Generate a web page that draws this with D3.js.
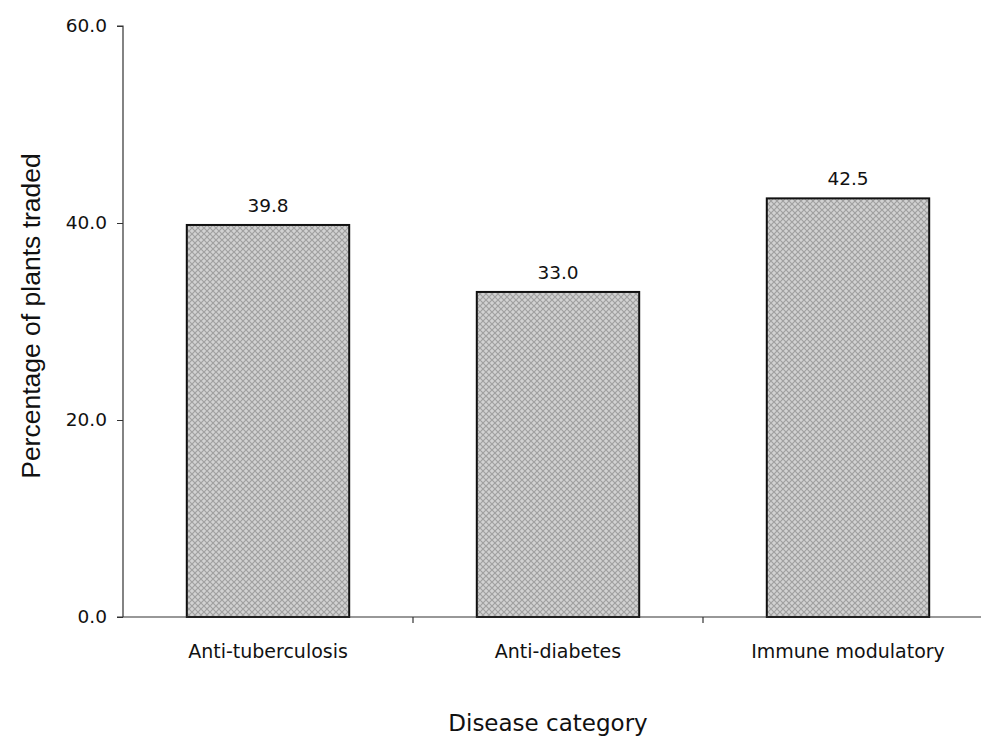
<!DOCTYPE html>
<html><head><meta charset="utf-8">
<script src="https://cdn.jsdelivr.net/npm/d3@7"></script>
<style>body{margin:0;background:#fff}</style>
</head><body>
<script>
const categories = ["Anti-tuberculosis", "Anti-diabetes", "Immune modulatory"];
const values = [39.8, 33.0, 42.5];
const yTicks = [0, 20, 40, 60];

const W = 981, H = 741;
const svg = d3.select("body").append("svg").attr("width", W).attr("height", H);

const defs = svg.append("defs");
const pat = defs.append("pattern").attr("id", "hatch").attr("patternUnits", "userSpaceOnUse")
  .attr("width", 6).attr("height", 6);
pat.append("rect").attr("width", 6).attr("height", 6).attr("fill", "#d2d2d2");
pat.append("path").attr("d", "M0,0 L6,6 M6,0 L0,6").attr("stroke", "#a0a0a0").attr("stroke-width", 1.2);

const x = d3.scaleBand().domain(categories).range([123, 993]).paddingInner(0.44).paddingOuter(0.22);
const y = d3.scaleLinear().domain([0, 60]).range([617, 26]);

const font = "Tahoma, 'DejaVu Sans', Verdana, sans-serif";

// bars
svg.selectAll("rect.bar").data(values).enter().append("rect")
  .attr("class", "bar")
  .attr("x", (d, i) => x(categories[i]))
  .attr("y", d => y(d))
  .attr("width", x.bandwidth())
  .attr("height", d => y(0) - y(d))
  .attr("fill", "url(#hatch)")
  .attr("stroke", "#111").attr("stroke-width", 2);

// value labels
svg.selectAll("text.val").data(values).enter().append("text")
  .attr("x", (d, i) => x(categories[i]) + x.bandwidth() / 2)
  .attr("y", d => y(d) - 13)
  .attr("text-anchor", "middle")
  .attr("font-family", font).attr("font-size", 18.5).attr("fill", "#111")
  .text(d => d.toFixed(1));

// y axis
const yAxis = svg.append("g").attr("transform", "translate(123,0)")
  .call(d3.axisLeft(y).tickValues(yTicks).tickFormat(d => d.toFixed(1)).tickSize(6).tickPadding(10));
yAxis.select(".domain").attr("stroke", "#333").attr("stroke-width", 1.2).attr("d", `M-6,${y(60)}H0V${y(0)}`);
yAxis.selectAll("line").attr("stroke", "#333");
yAxis.selectAll("text").attr("font-family", font).attr("font-size", 18.5).attr("fill", "#111");

// x axis
const xAxis = svg.append("g").attr("transform", `translate(0,${y(0)})`)
  .call(d3.axisBottom(x).tickSize(0).tickPadding(28));
xAxis.select(".domain").attr("stroke", "#333").attr("stroke-width", 1.2).attr("d", `M117,0H981`);
xAxis.selectAll("text").attr("font-family", font).attr("font-size", 19).attr("fill", "#111");
// separator ticks between categories
const seps = categories.slice(1).map(c => x(c) - x.step() * x.paddingInner() / 2);
xAxis.selectAll("line.sep").data(seps).enter().append("line")
  .attr("x1", d => d).attr("x2", d => d).attr("y1", 0).attr("y2", 6)
  .attr("stroke", "#333").attr("stroke-width", 1.2);

// titles
svg.append("text").attr("x", 548).attr("y", 731).attr("text-anchor", "middle")
  .attr("font-family", font).attr("font-size", 23).attr("fill", "#111").text("Disease category");
svg.append("text").attr("transform", "translate(40,316) rotate(-90)").attr("text-anchor", "middle")
  .attr("font-family", "'Liberation Sans', Arial, sans-serif").attr("font-size", 26.5).attr("fill", "#111")
  .text("Percentage of plants traded");
</script>
</body></html>
